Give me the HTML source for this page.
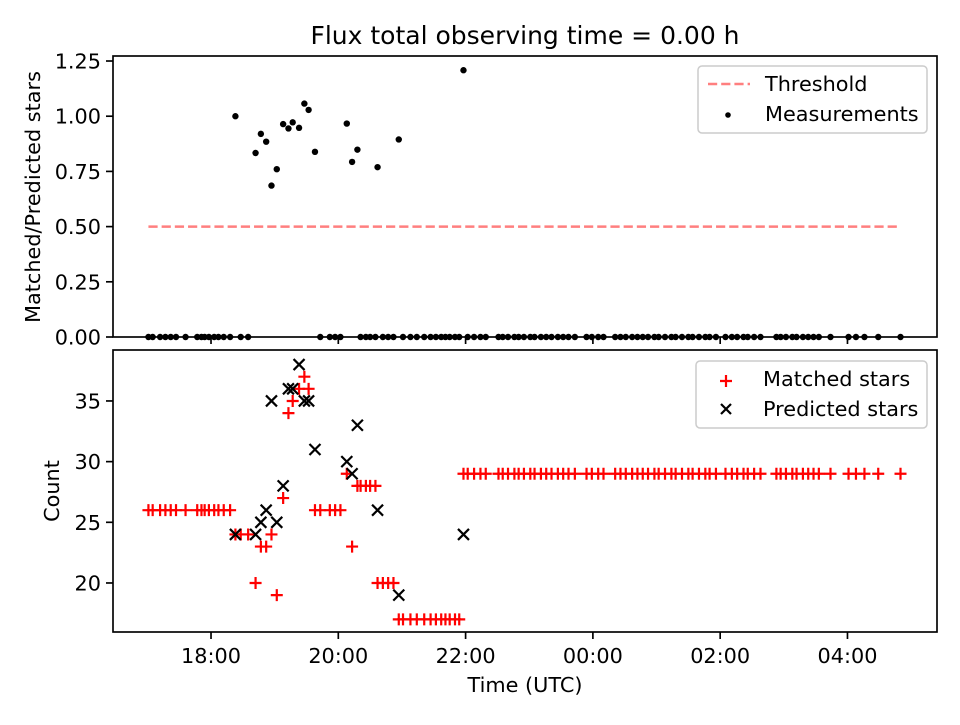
<!DOCTYPE html>
<html><head><meta charset="utf-8"><style>
body{margin:0;background:#fff;}
svg text{font-family:"DejaVu Sans","Liberation Sans",sans-serif;fill:#000;}
</style></head><body>
<svg id="chart" width="960" height="720" xmlns="http://www.w3.org/2000/svg"></svg>
<script>
// minutes after 16:00 UTC
const times=[61,65,72,77,82,87,96,107,111,114,118,123,127,132,138,143,148,155,162,167,172,177,182,188,193,197,203,208,212,218,223,232,237,242,248,253,258,261,266,270,275,277,282,287,292,297,301,308,314,321,327,332,337,341,345,350,354,358,362,368,374,379,391,395,400,406,410,415,421,425,431,436,441,447,452,457,463,474,479,485,490,501,506,511,517,522,527,532,538,542,548,554,558,564,570,574,580,586,590,596,605,611,616,622,626,632,638,653,657,662,668,672,678,683,688,693,704,721,728,736,749,770];
const matched=[26,26,26,26,26,26,26,26,26,26,26,26,26,26,26,24,24,24,20,23,23,24,19,27,34,35,36,37,36,26,26,26,26,26,29,23,28,28,28,28,28,20,20,20,20,17,17,17,17,17,17,17,17,17,17,17,17,29,29,29,29,29,29,29,29,29,29,29,29,29,29,29,29,29,29,29,29,29,29,29,29,29,29,29,29,29,29,29,29,29,29,29,29,29,29,29,29,29,29,29,29,29,29,29,29,29,29,29,29,29,29,29,29,29,29,29,29,29,29,29,29,29];
const predicted=[null,null,null,null,null,null,null,null,null,null,null,null,null,null,null,24,null,null,24,25,26,35,25,28,36,36,38,35,35,31,null,null,null,null,30,29,33,null,null,null,null,26,null,null,null,19,null,null,null,null,null,null,null,null,null,null,null,24];
const xTickVals=[120,240,360,480,600,720];
const xTickLabels=["18:00","20:00","22:00","00:00","02:00","04:00"];
const topTicks=[0,0.25,0.5,0.75,1.0,1.25];
const topTickLabels=["0.00","0.25","0.50","0.75","1.00","1.25"];
const botTicks=[20,25,30,35];
const threshold=0.5;

const svg=document.getElementById('chart');
const NS='http://www.w3.org/2000/svg';
function mk(tag,attrs,parent){const e=document.createElementNS(NS,tag);for(const k in attrs)e.setAttribute(k,attrs[k]);(parent||svg).appendChild(e);return e;}
const FS='20.8';
const L=113,R=937,T1=56,B1=337,T2=350,B2=632;
const xMin=27.6,xMax=804.4;
const xS=v=>L+(v-xMin)/(xMax-xMin)*(R-L);
const y1S=v=>B1-(v-0)/(1.2727-0)*(B1-T1);
const y2S=v=>B2-(v-15.96)/(39.2-15.96)*(B2-T2);

let t=mk('text',{x:525,y:44,'text-anchor':'middle','font-size':'25'});t.textContent='Flux total observing time = 0.00 h';


// top panel
const g1=mk('g',{});
const thr=mk('line',{x1:xS(times[0]),x2:xS(times[times.length-1]),y1:y1S(threshold),y2:y1S(threshold),stroke:'#ff7f7f','stroke-width':2.5,'stroke-dasharray':'9.2,4'},g1);

times.forEach((tm,i)=>{const p=predicted[i];const r=p?matched[i]/p:0;
 const c=mk('circle',{cx:xS(tm),cy:y1S(r),r:3.2,fill:'#000'},g1);
 });
mk('rect',{x:L,y:T1,width:R-L,height:B1-T1,fill:'none',stroke:'#000','stroke-width':1.67},g1);
topTicks.forEach((v,i)=>{const y=y1S(v);mk('line',{x1:L-7,x2:L,y1:y,y2:y,stroke:'#000','stroke-width':1.67},g1);
 const tx=mk('text',{x:L-12,y:y+7.5,'text-anchor':'end','font-size':FS},g1);tx.textContent=topTickLabels[i];
 });
xTickVals.forEach(v=>{mk('line',{x1:xS(v),x2:xS(v),y1:B1,y2:B1+7,stroke:'#000','stroke-width':1.67},g1);});
let yl=mk('text',{transform:'translate(40,197) rotate(-90)','text-anchor':'middle','font-size':FS},g1);yl.textContent='Matched/Predicted stars';

const lg1=mk('g',{},g1);
mk('rect',{x:698,y:66,width:229,height:67,rx:4,fill:'#fff',stroke:'#ccc','stroke-width':1.5},lg1);
mk('line',{x1:708,x2:750,y1:84,y2:84,stroke:'#ff7f7f','stroke-width':2.5,'stroke-dasharray':'9.2,4'},lg1);
let lt=mk('text',{x:765,y:91,'font-size':FS},lg1);lt.textContent='Threshold';
mk('circle',{cx:728,cy:115,r:2.8,fill:'#000'},lg1);
lt=mk('text',{x:765,y:121,'font-size':FS},lg1);lt.textContent='Measurements';

// bottom panel
const g2=mk('g',{});
times.forEach((tm,i)=>{const x=xS(tm),y=y2S(matched[i]);
 const p=mk('path',{d:`M${x-6},${y}H${x+6}M${x},${y-6}V${y+6}`,stroke:'#f00','stroke-width':2.2},g2);
 });
times.forEach((tm,i)=>{if(predicted[i]==null)return;const x=xS(tm),y=y2S(predicted[i]);
 const p=mk('path',{d:`M${x-5.5},${y-5.5}L${x+5.5},${y+5.5}M${x-5.5},${y+5.5}L${x+5.5},${y-5.5}`,stroke:'#000','stroke-width':2.2},g2);
 });
mk('rect',{x:L,y:T2,width:R-L,height:B2-T2,fill:'none',stroke:'#000','stroke-width':1.67},g2);
botTicks.forEach(v=>{const y=y2S(v);mk('line',{x1:L-7,x2:L,y1:y,y2:y,stroke:'#000','stroke-width':1.67},g2);
 const tx=mk('text',{x:L-12,y:y+7.5,'text-anchor':'end','font-size':FS},g2);tx.textContent=String(v);
 });
xTickVals.forEach((v,i)=>{mk('line',{x1:xS(v),x2:xS(v),y1:B2,y2:B2+7,stroke:'#000','stroke-width':1.67},g2);
 const tx=mk('text',{x:xS(v),y:B2+31,'text-anchor':'middle','font-size':FS},g2);tx.textContent=xTickLabels[i];
 });
yl=mk('text',{transform:'translate(59,491) rotate(-90)','text-anchor':'middle','font-size':FS},g2);yl.textContent='Count';

let xl=mk('text',{x:525,y:692,'text-anchor':'middle','font-size':FS},g2);xl.textContent='Time (UTC)';

const lg2=mk('g',{},g2);
mk('rect',{x:696,y:361,width:231,height:67,rx:4,fill:'#fff',stroke:'#ccc','stroke-width':1.5},lg2);
mk('path',{d:'M720,381H732M726,375V387',stroke:'#f00','stroke-width':2.2},lg2);
lt=mk('text',{x:763,y:386,'font-size':FS},lg2);lt.textContent='Matched stars';
mk('path',{d:'M721,404L731,414M721,414L731,404',stroke:'#000','stroke-width':2.2},lg2);
lt=mk('text',{x:763,y:416,'font-size':FS},lg2);lt.textContent='Predicted stars';
</script>
</body></html>
